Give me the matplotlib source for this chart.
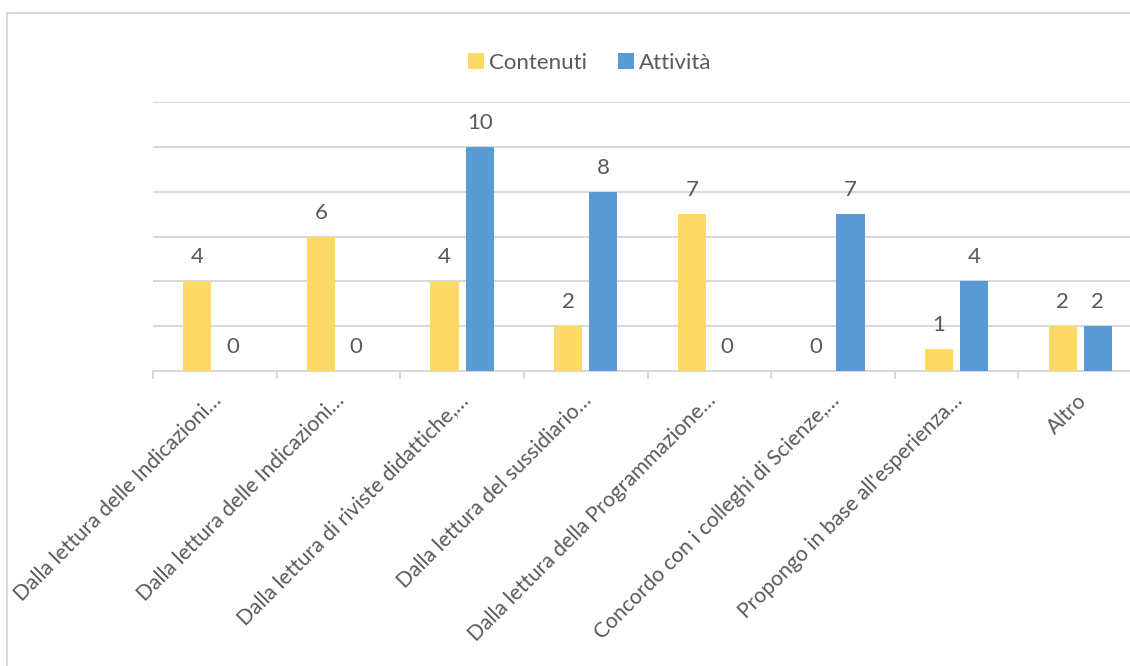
import numpy as np
import matplotlib
matplotlib.use("Agg")
import matplotlib.pyplot as plt
import matplotlib.transforms as mtransforms
from matplotlib.patches import Rectangle

# categories and values
categorie = ["Dalla lettura delle Indicazioni…",
             "Dalla lettura delle Indicazioni…",
             "Dalla lettura di riviste didattiche,…",
             "Dalla lettura del sussidiario…",
             "Dalla lettura della Programmazione…",
             "Concordo con i colleghi di Scienze,…",
             "Propongo in base all'esperienza…",
             "Altro"]
contenuti = [4, 6, 4, 2, 7, 0, 1, 2]
attivita = [0, 0, 10, 8, 0, 7, 4, 2]

plt.rcParams['font.family'] = ['Lato', 'DejaVu Sans']
testo = '#595959'
giallo = '#FFD966'
blu = '#5B9BD5'
griglia = '#D9D9D9'

fig = plt.figure(figsize=(11.3, 6.66), dpi=100)
# outer chart frame
fig.patches.append(Rectangle((7/1130, -0.1), 1.2, 1 - 12.5/666 + 0.1, transform=fig.transFigure,
                             fill=False, edgecolor=griglia, linewidth=1.5))

ax = fig.add_axes([153/1130, 1 - 371/666, (1130-153)/1130, (371-102)/666])
x = np.arange(len(categorie))
w = 0.227
off = 0.142
b1 = ax.bar(x - off, contenuti, w, color=giallo, label='Contenuti', zorder=3)
b2 = ax.bar(x + off, attivita, w, color=blu, label='Attività', zorder=3)
for bars in (b1, b2):
    ax.bar_label(bars, padding=10, fontsize=16, color=testo)

ax.set_yticks([2, 4, 6, 8, 10, 12])
ax.yaxis.grid(True, color=griglia, linewidth=1.5, zorder=0)
ax.tick_params(axis='y', length=0, labelleft=False)
for s in ['top', 'right', 'left']:
    ax.spines[s].set_visible(False)
ax.spines['bottom'].set_color(griglia)
ax.spines['bottom'].set_linewidth(1.5)

ax.set_xticks(np.arange(len(categorie) + 1) - 0.5, minor=True)
ax.set_xticks(x)
ax.set_xticklabels(categorie, rotation=45, ha='right', rotation_mode='anchor',
                   fontsize=15.2, color=testo)
ax.tick_params(axis='x', which='major', length=0, pad=14)
ax.tick_params(axis='x', which='minor', length=6, width=1.5, color=griglia)
sposta = mtransforms.ScaledTranslation(-4/100, 0, fig.dpi_scale_trans)
for t in ax.get_xticklabels():
    t.set_transform(t.get_transform() + sposta)

ax.set_xlim(-0.5, (1130-215)/123.6)
ax.set_ylim(0, 12)

fig.legend(handles=[b1, b2], loc='center', bbox_to_anchor=(590/1130, 1 - 63/666), ncol=2,
           frameon=False, fontsize=16, labelcolor=testo, handlelength=0.7, handleheight=0.7,
           handletextpad=0.25, columnspacing=1.4)

fig.savefig('out.png', dpi=100)
